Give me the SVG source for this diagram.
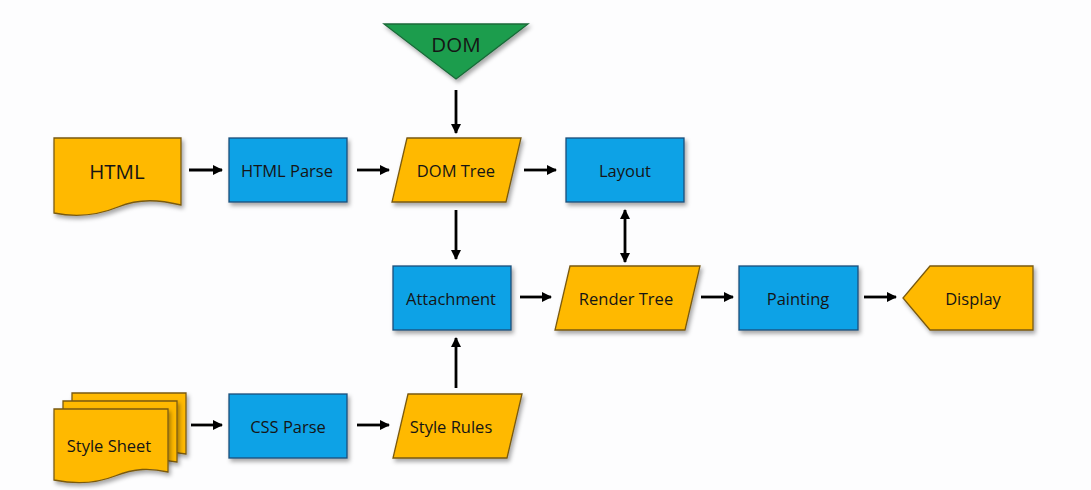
<svg xmlns="http://www.w3.org/2000/svg" width="1091" height="490" viewBox="0 0 1091 490">
<defs>
<filter id="sh" x="-10%" y="-10%" width="130%" height="140%">
<feDropShadow dx="2" dy="3" stdDeviation="2" flood-color="#000" flood-opacity="0.35"/>
</filter>
<marker id="ah" markerWidth="12" markerHeight="12" refX="9" refY="6" orient="auto" markerUnits="userSpaceOnUse">
<path d="M0,1 L10,6 L0,11 Z" fill="#000"/>
</marker>
<marker id="as" markerWidth="12" markerHeight="12" refX="1" refY="6" orient="auto" markerUnits="userSpaceOnUse">
<path d="M10,1 L0,6 L10,11 Z" fill="#000"/>
</marker>
</defs>
<style>
.o{fill:#FFB900;stroke:#7A5A10;stroke-width:1.3;filter:url(#sh)}
.b{fill:#07A2E6;stroke:#1C4F7A;stroke-width:1.3;filter:url(#sh)}
.g{fill:#1F9D4E;stroke:#1A6A38;stroke-width:1.3;filter:url(#sh)}
.t{font-family:"Open Sans","Liberation Sans",sans-serif;font-size:16.5px;fill:#151515;text-anchor:middle;dominant-baseline:central}
.tl{font-size:20.5px}
.c{stroke:#000;stroke-width:2.8;fill:none;marker-end:url(#ah)}
</style>
<rect width="1091" height="490" fill="#FDFDFE"/>

<g id="dom">
<polygon class="g" points="384,24 528,24 456,79"/>
<text class="t tl" x="456" y="44">DOM</text>
</g>
<g id="html">
<path class="o" d="M54,138 H181 V205 C160,200 140,198 118,207 C96,216 74,217 54,213 Z"/>
<text class="t tl" x="117" y="171">HTML</text>
</g>
<g id="htmlparse">
<rect class="b" x="229" y="138" width="118" height="64"/>
<text class="t" x="287" y="170">HTML Parse</text>
</g>
<g id="domtree">
<polygon class="o" points="407,138 521,138 506,202 392,202"/>
<text class="t" x="456" y="170">DOM Tree</text>
</g>
<g id="layout">
<rect class="b" x="566" y="138" width="118" height="64"/>
<text class="t" x="625" y="170">Layout</text>
</g>
<g id="attachment">
<rect class="b" x="393" y="266" width="118" height="64"/>
<text class="t" x="451" y="298">Attachment</text>
</g>
<g id="rendertree">
<polygon class="o" points="570,266 700,266 685,330 555,330"/>
<text class="t" x="626" y="298">Render Tree</text>
</g>
<g id="painting">
<rect class="b" x="739" y="266" width="119" height="64"/>
<text class="t" x="798" y="298">Painting</text>
</g>
<g id="display">
<polygon class="o" points="930,266 1033,266 1033,330 930,330 903,298"/>
<text class="t" x="973" y="298">Display</text>
</g>
<g id="stylesheet">
<path class="o" d="M72,393 H186 V454 C170,451 160,452 150,456 L72,456 Z"/>
<path class="o" d="M63,401 H177 V462 C161,459 151,460 141,464 L63,464 Z"/>
<path class="o" d="M54,409 H168 V472 C150,468 135,468 115,476 C95,484 74,484 54,480 Z"/>
<text class="t" x="109" y="445">Style Sheet</text>
</g>
<g id="cssparse">
<rect class="b" x="229" y="394" width="118" height="64"/>
<text class="t" x="288" y="426">CSS Parse</text>
</g>
<g id="stylerules">
<polygon class="o" points="408,394 522,394 507,458 393,458"/>
<text class="t" x="451" y="426">Style Rules</text>
</g>

<g id="connectors">
<line class="c" x1="189" y1="170" x2="222" y2="170"/>
<line class="c" x1="357" y1="170" x2="389" y2="170"/>
<line class="c" x1="524" y1="170" x2="556" y2="170"/>
<line class="c" x1="456" y1="90" x2="456" y2="133"/>
<line class="c" x1="456" y1="210" x2="456" y2="259"/>
<line class="c" x1="625" y1="210" x2="625" y2="262" marker-start="url(#as)"/>
<line class="c" x1="520" y1="297" x2="551" y2="297"/>
<line class="c" x1="701" y1="297" x2="733" y2="297"/>
<line class="c" x1="864" y1="297" x2="896" y2="297"/>
<line class="c" x1="191" y1="425" x2="222" y2="425"/>
<line class="c" x1="357" y1="425" x2="389" y2="425"/>
<line class="c" x1="456" y1="388" x2="456" y2="338"/>
</g>
</svg>
